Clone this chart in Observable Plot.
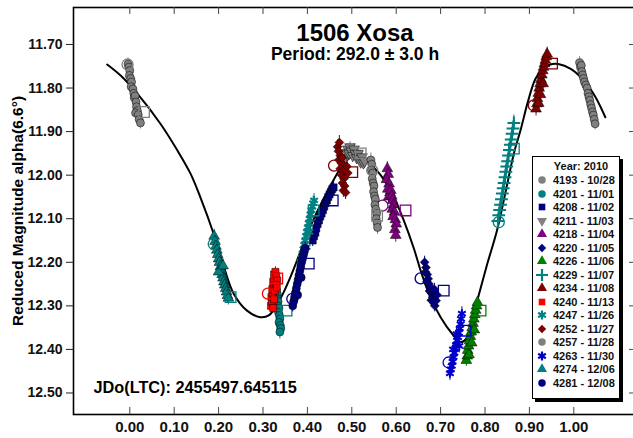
<!DOCTYPE html>
<html>
<head>
<meta charset="utf-8">
<script src="https://cdn.jsdelivr.net/npm/d3@7"></script>
<script src="https://cdn.jsdelivr.net/npm/@observablehq/plot@0.6"></script>
<style>
  html, body { margin: 0; padding: 0; background: #fff; }
  #wrap { position: relative; width: 633px; height: 438px; overflow: hidden; font-family: "Liberation Sans", Arial, sans-serif; }
  #legend { position: absolute; left: 532px; top: 156px; width: 86px; height: 241px; border: 1px solid #000; background: #fff; box-shadow: 3px 3px 0 #000; }
  #legend .ttl { position: absolute; left: 0; width: 100%; top: 3px; text-align: center; font-weight: bold; font-size: 11px; color: #111; padding-left: 10px; box-sizing: border-box; }
  #legend .row { position: absolute; left: 0; height: 14px; line-height: 14px; font-weight: bold; font-size: 11px; color: #111; white-space: nowrap; }
  #legend .row svg { position: absolute; left: 3px; top: 1px; }
  #legend .row span { position: absolute; left: 20px; }
</style>
</head>
<body>
<div id="wrap"></div>
<script>
// ---------- data ----------
const xTicks = [0, 0.1, 0.2, 0.3, 0.4, 0.5, 0.6, 0.7, 0.8, 0.9, 1.0];
const yTicks = [11.7, 11.8, 11.9, 12.0, 12.1, 12.2, 12.3, 12.4, 12.5];

const sessionLabels = ["4193 - 10/28", "4201 - 11/01", "4208 - 11/02", "4211 - 11/03", "4218 - 11/04",
  "4220 - 11/05", "4226 - 11/06", "4229 - 11/07", "4234 - 11/08", "4240 - 11/13", "4247 - 11/26",
  "4252 - 11/27", "4257 - 11/28", "4263 - 11/30", "4274 - 12/06", "4281 - 12/08"];
const sessionColors = ["#808080", "#008080", "#000080", "#808080", "#800080", "#000080", "#008000", "#008080",
  "#800000", "#ff0000", "#008080", "#800000", "#808080", "#0000c8", "#008080", "#000080"];
const sessionSymbols = ["circle", "circle", "square", "triangleDown", "triangle", "diamond2", "triangle", "plus",
  "triangle", "square", "asterisk", "diamond2", "circle", "asterisk", "triangle", "circle"];
const sessionErr = [0.014, 0.016, 0.014, 0.012, 0.016, 0.014, 0.014, 0.018, 0.016, 0.012, 0.016, 0.016, 0.016, 0.016, 0.016, 0.014];

const s4193 = [[-0.004,11.745],[-0.002,11.752],[0.000,11.760],[-0.001,11.771],[0.002,11.778],[0.004,11.786],[0.003,11.797],[0.007,11.802],[0.009,11.812],[0.010,11.822],[0.012,11.818],[0.014,11.832],[0.015,11.843],[0.017,11.852],[0.013,11.857],[0.019,11.861],[0.021,11.872],[0.024,11.880],
  [1.013,11.742],[1.015,11.752],[1.017,11.748],[1.018,11.762],[1.020,11.770],[1.022,11.778],[1.024,11.786],[1.027,11.793],[1.030,11.800],[1.032,11.812],[1.034,11.820],[1.036,11.828],[1.038,11.838],[1.040,11.846],[1.042,11.855],[1.044,11.862],[1.046,11.872],[1.048,11.882]];
const s4201 = [[0.330,12.262],[0.332,12.272],[0.331,12.283],[0.334,12.290],[0.333,12.300],[0.336,12.305],[0.335,12.315],[0.337,12.322],[0.338,12.330],[0.336,12.338],[0.339,12.345],[0.340,12.352],[0.338,12.360]];
const s4208 = [[0.412,12.150],[0.415,12.140],[0.418,12.132],[0.420,12.122],[0.423,12.112],[0.426,12.104],[0.429,12.095],[0.432,12.088],[0.435,12.080],[0.438,12.072],[0.441,12.064],[0.444,12.058],[0.447,12.050],[0.450,12.044],[0.453,12.038],[0.456,12.032],[0.459,12.028]];
const s4211 = [[0.487,11.960],[0.489,11.948],[0.491,11.940],[0.494,11.950],[0.496,11.935],[0.499,11.945],[0.502,11.955],[0.505,11.940],[0.508,11.950],[0.511,11.960],[0.514,11.950],[0.517,11.962],[0.520,11.970],[0.523,11.958],[0.526,11.972],[0.529,11.968]];
const s4218 = [[0.580,11.985],[0.582,11.998],[0.578,12.010],[0.584,12.020],[0.581,12.032],[0.586,12.040],[0.583,12.050],[0.588,12.035],[0.590,12.048],[0.592,12.058],[0.594,12.068],[0.591,12.078],[0.596,12.085],[0.593,12.095],[0.598,12.102],[0.600,12.112],[0.597,12.125],[0.599,12.138]];
const s4220 = [[0.664,12.200],[0.667,12.212],[0.666,12.222],[0.670,12.228],[0.672,12.238],[0.669,12.245],[0.674,12.250],[0.677,12.258],[0.675,12.266],[0.680,12.272],[0.682,12.280],[0.679,12.287],[0.684,12.292],[0.687,12.300],[0.690,12.288],[0.692,12.275],[0.686,12.262]];
const s4226 = [[0.758,12.425],[0.760,12.415],[0.761,12.402],[0.763,12.392],[0.765,12.380],[0.767,12.370],[0.769,12.360],[0.771,12.350],[0.773,12.340],[0.775,12.330],[0.777,12.320],[0.779,12.310],[0.781,12.300],[0.783,12.292],[0.770,12.385],[0.776,12.355],[0.764,12.412]];
const s4229 = [[0.829,12.105],[0.831,12.092],[0.833,12.080],[0.835,12.068],[0.837,12.055],[0.839,12.042],[0.841,12.030],[0.843,12.018],[0.845,12.005],[0.847,11.992],[0.849,11.980],[0.851,11.968],[0.853,11.955],[0.855,11.942],[0.857,11.930],[0.859,11.918],[0.861,11.905],[0.863,11.893],[0.865,11.880]];
const s4234 = [[0.915,11.848],[0.917,11.836],[0.918,11.824],[0.920,11.812],[0.922,11.800],[0.924,11.790],[0.926,11.780],[0.928,11.770],[0.930,11.760],[0.932,11.752],[0.934,11.744],[0.936,11.736],[0.938,11.728],[0.940,11.722],[0.925,11.815],[0.931,11.790],[0.921,11.835]];
const s4240 = [[0.318,12.300],[0.320,12.290],[0.319,12.280],[0.322,12.272],[0.321,12.262],[0.324,12.255],[0.323,12.245],[0.326,12.238],[0.325,12.228],[0.328,12.222],[0.330,12.232],[0.332,12.242],[0.329,12.252],[0.327,12.265],[0.325,12.285],[0.323,12.305],[0.331,12.258]];
const s4247 = [[0.385,12.200],[0.387,12.190],[0.389,12.180],[0.391,12.170],[0.393,12.160],[0.395,12.150],[0.397,12.140],[0.399,12.130],[0.401,12.120],[0.403,12.110],[0.405,12.100],[0.407,12.090],[0.409,12.080],[0.411,12.072],[0.413,12.064],[0.415,12.058],[0.398,12.165],[0.404,12.130]];
const s4252 = [[0.468,11.935],[0.470,11.945],[0.472,11.925],[0.474,11.955],[0.471,11.965],[0.476,11.972],[0.478,11.960],[0.474,11.985],[0.480,11.990],[0.477,12.000],[0.482,12.008],[0.479,12.018],[0.484,12.025],[0.481,12.035],[0.486,12.040],[0.489,11.980],[0.491,11.995]];
const s4257 = [[0.543,11.965],[0.545,11.975],[0.544,11.988],[0.547,11.995],[0.546,12.008],[0.548,12.018],[0.550,12.025],[0.549,12.038],[0.551,12.048],[0.553,12.055],[0.552,12.068],[0.554,12.078],[0.556,12.088],[0.555,12.100],[0.557,12.110],[0.558,12.120]];
const s4263 = [[0.748,12.318],[0.746,12.330],[0.745,12.342],[0.743,12.352],[0.741,12.362],[0.739,12.372],[0.737,12.380],[0.735,12.390],[0.733,12.398],[0.731,12.408],[0.729,12.418],[0.727,12.428],[0.725,12.438],[0.723,12.446],[0.721,12.455],[0.736,12.365],[0.742,12.392],[0.728,12.400]];
const s4274 = [[0.190,12.140],[0.192,12.152],[0.194,12.163],[0.196,12.172],[0.198,12.182],[0.200,12.192],[0.202,12.200],[0.204,12.210],[0.206,12.218],[0.208,12.228],[0.210,12.236],[0.212,12.245],[0.214,12.252],[0.216,12.260],[0.218,12.268],[0.220,12.276],[0.222,12.282],[0.200,12.222],[0.210,12.208]];
const s4281 = [[0.367,12.300],[0.369,12.290],[0.371,12.280],[0.373,12.270],[0.375,12.260],[0.377,12.250],[0.379,12.240],[0.381,12.230],[0.383,12.220],[0.385,12.210],[0.387,12.200],[0.389,12.192],[0.391,12.184],[0.393,12.176],[0.395,12.168],[0.378,12.275],[0.386,12.235]];
const sessionPoints = [s4193, s4201, s4208, s4211, s4218, s4220, s4226, s4229, s4234, s4240, s4247, s4252, s4257, s4263, s4274, s4281];

// open circle = first point of a session, open square = last point (null when hidden)
const startMarks = [[-0.005,11.746], null, null, null, [0.569,12.070], [0.655,12.237], null, [0.831,12.108],
  [0.910,11.840], [0.311,12.272], null, [0.460,11.978], [0.546,11.989], [0.718,12.430], [0.189,12.158], [0.366,12.284]];
const endMarks = [[0.032,11.855], [0.353,12.311], [0.457,12.058], [0.520,11.950], [0.621,12.081], [0.707,12.265],
  [0.790,12.311], [0.865,11.939], [0.951,11.744], [0.332,12.237], [0.414,12.081], [0.501,11.993], [0.557,12.093],
  [0.756,12.357], [0.227,12.280], [0.403,12.203]];

// Fourier fit curve
const fitPhase = [-0.051,-0.02,0.017,0.069,0.107,0.137,0.159,0.19,0.212,0.234,0.264,0.294,0.313,0.33,0.345,0.36,0.375,0.39,0.405,0.42,0.435,0.45,0.465,0.48,0.495,0.51,0.525,0.542,0.565,0.595,0.617,0.64,0.655,0.677,0.7,0.726,0.745,0.758,0.77,0.782,0.805,0.827,0.846,0.865,0.88,0.897,0.914,0.93,0.947,0.965,0.993,1.023,1.049,1.071];
const fitMag = [11.746,11.772,11.813,11.882,11.943,11.997,12.051,12.138,12.211,12.272,12.311,12.326,12.322,12.300,12.272,12.238,12.200,12.160,12.122,12.088,12.057,12.028,12.000,11.975,11.960,11.955,11.960,11.975,12.000,12.051,12.104,12.169,12.219,12.280,12.326,12.364,12.383,12.375,12.335,12.290,12.204,12.127,12.040,11.950,11.897,11.830,11.778,11.757,11.746,11.745,11.756,11.783,11.821,11.867];

// ---------- symbols ----------
const triangleDown = {
  draw(context, size) {
    const y = -Math.sqrt(size / (Math.sqrt(3) * 3));
    context.moveTo(0, -y * 2);
    context.lineTo(-Math.sqrt(3) * y, y);
    context.lineTo(Math.sqrt(3) * y, y);
    context.closePath();
  }
};
function plotSymbol(name) { return name === "triangleDown" ? triangleDown : name; }
const d3Sym = { circle: d3.symbolCircle, square: d3.symbolSquare, triangle: d3.symbolTriangle, triangleDown: triangleDown,
  diamond2: d3.symbolDiamond2, plus: d3.symbolPlus, asterisk: d3.symbolAsterisk };
const strokeOnly = new Set(["plus", "asterisk"]);

// ---------- layout ----------
const W = 633, H = 438, mT = 7, mB = 24, mL = 73, mR = -3;
const plotH = H - mT - mB, plotW = W - mR - mL;
const font = "Liberation Sans, Arial, sans-serif";

const fit = fitPhase.map((p, i) => ({ p, m: fitMag[i] }));

const marks = [];
marks.push(Plot.frame({ stroke: "#000", strokeWidth: 1.6 }));
marks.push(Plot.ruleX(xTicks, { x: d => d, insetTop: plotH - 7, stroke: "#444" }));
marks.push(Plot.ruleX(xTicks, { x: d => d, insetBottom: plotH - 7, stroke: "#444" }));
marks.push(Plot.ruleY(yTicks, { y: d => d, insetLeft: plotW - 7, stroke: "#444" }));
marks.push(Plot.axisY(yTicks, { tickSize: 7, tickPadding: 4, tickFormat: d => d.toFixed(2), fontSize: 14, fontWeight: "bold", fill: "#111", stroke: "#222", label: null }));
marks.push(Plot.axisX(xTicks, { tickSize: 0, tickPadding: 7, tickFormat: d => d.toFixed(2), fontSize: 15, fontWeight: "bold", fill: "#111", label: null }));
marks.push(Plot.line(fit, { x: "p", y: "m", curve: "catmull-rom", stroke: "#000", strokeWidth: 2 }));

sessionPoints.forEach((pts, i) => {
  const c = sessionColors[i], e = sessionErr[i], sym = sessionSymbols[i];
  const data = pts.map(([p, m]) => ({ p, m }));
  marks.push(Plot.ruleX(data, { x: "p", y1: d => d.m - e, y2: d => d.m + e, stroke: c, strokeWidth: 1 }));
  if (strokeOnly.has(sym)) {
    marks.push(Plot.dot(data, { x: "p", y: "m", symbol: sym, r: 4.2, stroke: c, strokeWidth: 2 }));
  } else {
    marks.push(Plot.dot(data, { x: "p", y: "m", symbol: plotSymbol(sym), r: 4, fill: c, stroke: "#000", strokeWidth: 0.5 }));
  }
  if (startMarks[i]) marks.push(Plot.dot([{ p: startMarks[i][0], m: startMarks[i][1] }], { x: "p", y: "m", symbol: "circle", r: 5.5, stroke: c, strokeWidth: 1.3, fill: "none" }));
  if (endMarks[i]) marks.push(Plot.dot([{ p: endMarks[i][0], m: endMarks[i][1] }], { x: "p", y: "m", symbol: "square", r: 6, stroke: c, strokeWidth: 1.3, fill: "none" }));
});

marks.push(Plot.text(["1506 Xosa"], { frameAnchor: "top", dy: 16, fontSize: 24, fontWeight: "bold", fill: "#000" }));
marks.push(Plot.text(["Period: 292.0 \u00B1 3.0 h"], { frameAnchor: "top", dy: 40, fontSize: 17.5, fontWeight: "bold", fill: "#000" }));
marks.push(Plot.text(["JDo(LTC): 2455497.645115"], { frameAnchor: "bottom-left", dx: 20, dy: -22, textAnchor: "start", fontSize: 16.3, fontWeight: "bold", fill: "#000" }));
marks.push(Plot.text(["Reduced Magnitude alpha(6.6\u00B0)"], { frameAnchor: "left", dx: -55, rotate: -90, textAnchor: "middle", lineAnchor: "middle", fontSize: 15.5, fontWeight: "bold", fill: "#000" }));

const chart = Plot.plot({
  width: W, height: H, marginTop: mT, marginBottom: mB, marginLeft: mL, marginRight: mR,
  x: { domain: [-0.1268, 1.1412] },
  y: { domain: [11.6151, 12.5494], reverse: true },
  style: { fontFamily: font, background: "#fff", overflow: "hidden" },
  marks
});
const wrap = document.getElementById("wrap");
wrap.appendChild(chart);

// ---------- legend ----------
const legend = document.createElement("div");
legend.id = "legend";
const ttl = document.createElement("div");
ttl.className = "ttl";
ttl.textContent = "Year: 2010";
legend.appendChild(ttl);
sessionLabels.forEach((lab, i) => {
  const row = document.createElement("div");
  row.className = "row";
  row.style.top = (16 + i * 13.5) + "px";
  const svg = d3.create("svg").attr("width", 12).attr("height", 12);
  const type = d3Sym[sessionSymbols[i]];
  const so = strokeOnly.has(sessionSymbols[i]);
  svg.append("path")
    .attr("transform", "translate(6,6)")
    .attr("d", d3.symbol(type, so ? 55 : 44)())
    .attr("fill", so ? "none" : sessionColors[i])
    .attr("stroke", so ? sessionColors[i] : "none")
    .attr("stroke-width", so ? 2.2 : 0);
  row.appendChild(svg.node());
  const sp = document.createElement("span");
  sp.textContent = lab;
  row.appendChild(sp);
  legend.appendChild(row);
});
wrap.appendChild(legend);
</script>
</body>
</html>
